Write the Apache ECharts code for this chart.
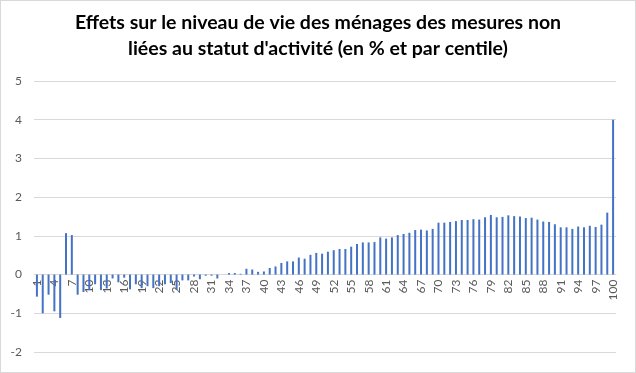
<!DOCTYPE html>
<html>
<head>
<meta charset="utf-8">
<script src="https://cdn.jsdelivr.net/npm/echarts@6/dist/echarts.min.js"></script>
<style>
html,body{margin:0;padding:0;background:#fff;}
#c{width:634px;height:371px;border:1px solid #d9d9d9;}
</style>
</head>
<body>
<div id="c"></div>
<script>
var titleText = "Effets sur le niveau de vie des ménages des mesures non\nliées au statut d'activité (en % et par centile)";
var centiles = [];
for (var i = 1; i <= 100; i++) centiles.push(String(i));
var values = [
 -0.57, -1.00, -0.52, -0.95, -1.12, 1.07, 1.02, -0.52, -0.45, -0.40,
 -0.25, -0.40, -0.36, -0.10, -0.20, -0.08, -0.38, -0.25, -0.35, -0.30,
 -0.35, -0.30, -0.25, -0.22, -0.40, -0.15, -0.15, -0.05, -0.12, -0.03,
 -0.03, -0.10, 0.00, 0.04, 0.04, 0.02, 0.15, 0.13, 0.07, 0.08,
 0.17, 0.21, 0.30, 0.34, 0.34, 0.44, 0.41, 0.51, 0.56, 0.54,
 0.59, 0.63, 0.66, 0.66, 0.72, 0.79, 0.83, 0.83, 0.84, 0.96,
 0.93, 0.96, 1.02, 1.05, 1.08, 1.15, 1.16, 1.14, 1.18, 1.34,
 1.34, 1.36, 1.38, 1.41, 1.41, 1.43, 1.42, 1.48, 1.54, 1.48,
 1.49, 1.53, 1.51, 1.50, 1.46, 1.47, 1.42, 1.37, 1.36, 1.30,
 1.22, 1.22, 1.18, 1.24, 1.22, 1.26, 1.23, 1.29, 1.60, 4.00
];
var yMin = -2, yMax = 5, yStep = 1;

var gridTop = 80, gridBottom = 20, chartH = 371;
var gridH = chartH - gridTop - gridBottom;
var zeroOffset = -gridH * (0 - yMin) / (yMax - yMin);

var chart = echarts.init(document.getElementById('c'), null, {renderer: 'canvas'});
chart.setOption({
  animation: false,
  backgroundColor: '#ffffff',
  title: {
    text: titleText,
    left: 'center',
    top: 4,
    textStyle: {fontFamily: 'Lato', fontWeight: 'bold', fontSize: 19.5, color: '#000', lineHeight: 26}
  },
  grid: {left: 33, right: 19, top: gridTop, bottom: gridBottom, containLabel: false, outerBoundsMode: 'none'},
  xAxis: {
    type: 'category',
    data: centiles,
    offset: zeroOffset,
    axisLine: {show: true, onZero: false, lineStyle: {color: '#d9d9d9', width: 1}},
    axisTick: {show: false},
    axisLabel: {interval: 2, rotate: 90, margin: 5, fontFamily: 'Lato', fontSize: 12, color: '#595959'},
    splitLine: {show: false}
  },
  yAxis: {
    type: 'value',
    min: yMin, max: yMax, interval: yStep,
    axisLine: {show: false},
    axisTick: {show: false},
    axisLabel: {margin: 12, fontFamily: 'Lato', fontSize: 12, color: '#595959'},
    splitLine: {show: true, lineStyle: {color: '#d9d9d9', width: 1}}
  },
  series: [{
    type: 'bar',
    data: values,
    barWidth: 2,
    itemStyle: {color: '#4472c4'}
  }]
});
</script>
</body>
</html>
